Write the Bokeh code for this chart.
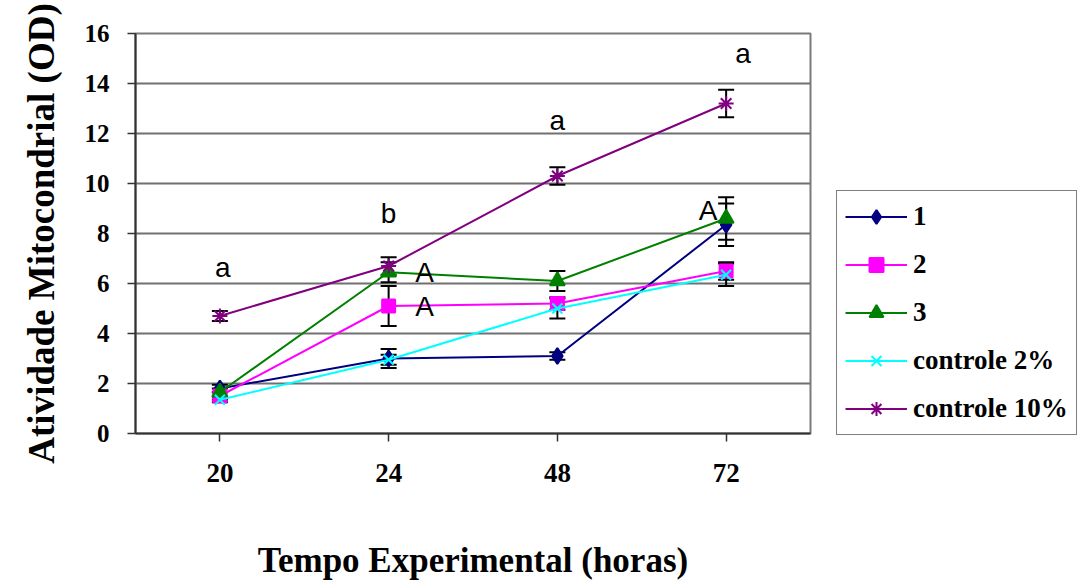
from bokeh.plotting import figure
from bokeh.models import (ColumnDataSource, Whisker, TeeHead, FixedTicker,
                          Legend, LegendItem)
from bokeh.core.properties import value
from bokeh.embed import file_html
from bokeh.resources import INLINE

# Experimental times (hours)
tempos = ["20", "24", "48", "72"]

# Mitochondrial activity (OD): mean and error per group
serie_1 = [1.8, 3.0, 3.1, 8.35]
erro_1 = [0.15, 0.38, 0.15, 0.85]
serie_2 = [1.5, 5.1, 5.2, 6.5]
erro_2 = [0.15, 0.8, 0.25, 0.35]
serie_3 = [1.65, 6.45, 6.1, 8.6]
erro_3 = [0.15, 0.4, 0.4, 0.85]
controle_2 = [1.35, 2.95, 5.0, 6.35]
erro_c2 = [0.1, 0.2, 0.4, 0.45]
controle_10 = [4.7, 6.7, 10.3, 13.2]
erro_c10 = [0.2, 0.35, 0.35, 0.55]

# Significance letters
letras_c10 = ["a", "b", "a", "a"]
letras_grupos = [("3", 1, "A"), ("2", 1, "A"), ("3", 3, "A")]

SERIF = "Liberation Serif"
SANS = "Liberation Sans"

x_idx = list(range(len(tempos)))

p = figure(frame_width=675, frame_height=400, x_range=(-0.5, 3.5), y_range=(0, 16),
           output_backend="svg", toolbar_location=None,
           min_border_left=135, min_border_right=0,
           min_border_top=33, min_border_bottom=149)
p.background_fill_color = "white"
p.border_fill_color = "white"
p.outline_line_color = "#7a7a7a"
p.outline_line_width = 2

# Axes
p.xaxis.ticker = FixedTicker(ticks=x_idx)
p.xaxis.major_label_overrides = {i: t for i, t in enumerate(tempos)}
p.yaxis.ticker = FixedTicker(ticks=list(range(0, 17, 2)))
for ax in (p.xaxis[0], p.yaxis[0]):
    ax.axis_line_color = "#333333"
    ax.axis_line_width = 2
    ax.major_tick_line_color = "#333333"
    ax.major_tick_line_width = 1.5
    ax.major_tick_out = 8
    ax.major_tick_in = 0
    ax.minor_tick_line_color = None
    ax.major_label_text_font = SERIF
    ax.major_label_text_font_style = "bold"
    ax.major_label_text_color = "black"
    ax.axis_label_text_font = SERIF
    ax.axis_label_text_font_style = "bold"
    ax.axis_label_text_color = "black"

p.xaxis.major_label_text_font_size = "27px"
p.xaxis.major_label_standoff = 22
p.xaxis.axis_label = "Tempo Experimental (horas)"
p.xaxis.axis_label_text_font_size = "35px"
p.xaxis.axis_label_standoff = 56

p.yaxis.major_label_text_font_size = "25px"
p.yaxis.major_label_standoff = 18
p.yaxis.axis_label = "Atividade Mitocondrial (OD)"
p.yaxis.axis_label_text_font_size = "37px"
p.yaxis.axis_label_standoff = 20

p.xgrid.grid_line_color = None
p.ygrid.grid_line_color = "#707070"
p.ygrid.grid_line_width = 2

series = [
    ("1", serie_1, erro_1, "#000080", "diamond", 16),
    ("2", serie_2, erro_2, "#ff00ff", "square", 13),
    ("3", serie_3, erro_3, "#008000", "triangle", 15),
    ("controle 2%", controle_2, erro_c2, "#00ffff", "x", 14),
    ("controle 10%", controle_10, erro_c10, "#800080", "asterisk", 15),
]

items = []
for nome, vals, errs, cor, marker, tam in series:
    src = ColumnDataSource(dict(
        x=x_idx, y=vals,
        upper=[v + e for v, e in zip(vals, errs)],
        lower=[v - e for v, e in zip(vals, errs)],
    ))
    w = Whisker(source=src, base="x", upper="upper", lower="lower",
                line_color="black", line_width=2,
                upper_head=TeeHead(size=16, line_color="black", line_width=2),
                lower_head=TeeHead(size=16, line_color="black", line_width=2))
    p.add_layout(w)
    ln = p.line("x", "y", source=src, line_color=cor, line_width=2)
    mk = p.scatter("x", "y", source=src, marker=marker, size=tam,
                   fill_color=cor, line_color=cor, line_width=2)
    items.append(LegendItem(label=nome, renderers=[ln, mk]))

# Letters above the 10% control
top_c10 = [v + e for v, e in zip(controle_10, erro_c10)]
p.text(x=x_idx, y=top_c10, text=letras_c10, y_offset=[-44, -44, -47, -36],
       x_offset=[3, 0, 0, 17],
       text_align="center", text_baseline="middle",
       text_font=value(SANS), text_font_size="28px", text_color="black")

# Letters next to the treated groups
lookup = {"2": serie_2, "3": serie_3}
ax_x, ax_y, ax_t, ax_dx, ax_dy = [], [], [], [], []
for grupo, i, letra in letras_grupos:
    ax_x.append(i)
    ax_y.append(lookup[grupo][i])
    ax_t.append(letra)
    ax_dx.append(36 if i < 3 else -18)
    ax_dy.append(0 if i < 3 else -8)
p.text(x=ax_x, y=ax_y, text=ax_t, x_offset=ax_dx, y_offset=ax_dy,
       text_align="center", text_baseline="middle",
       text_font=value(SANS), text_font_size="28px", text_color="black")

# Legend box in the right-hand panel
legend = Legend(items=items, location=(26, -2), orientation="vertical")
legend.margin = 0
legend.padding = 8
legend.spacing = 13
legend.label_height = 34
legend.glyph_height = 35
legend.glyph_width = 62
legend.label_standoff = 6
legend.label_text_font = SERIF
legend.label_text_font_style = "bold"
legend.label_text_font_size = "27px"
legend.label_text_color = "black"
legend.border_line_color = "black"
legend.border_line_width = 1.5
legend.background_fill_color = "white"
p.add_layout(legend, "right")

open("out.html", "w").write(file_html(p, INLINE))
